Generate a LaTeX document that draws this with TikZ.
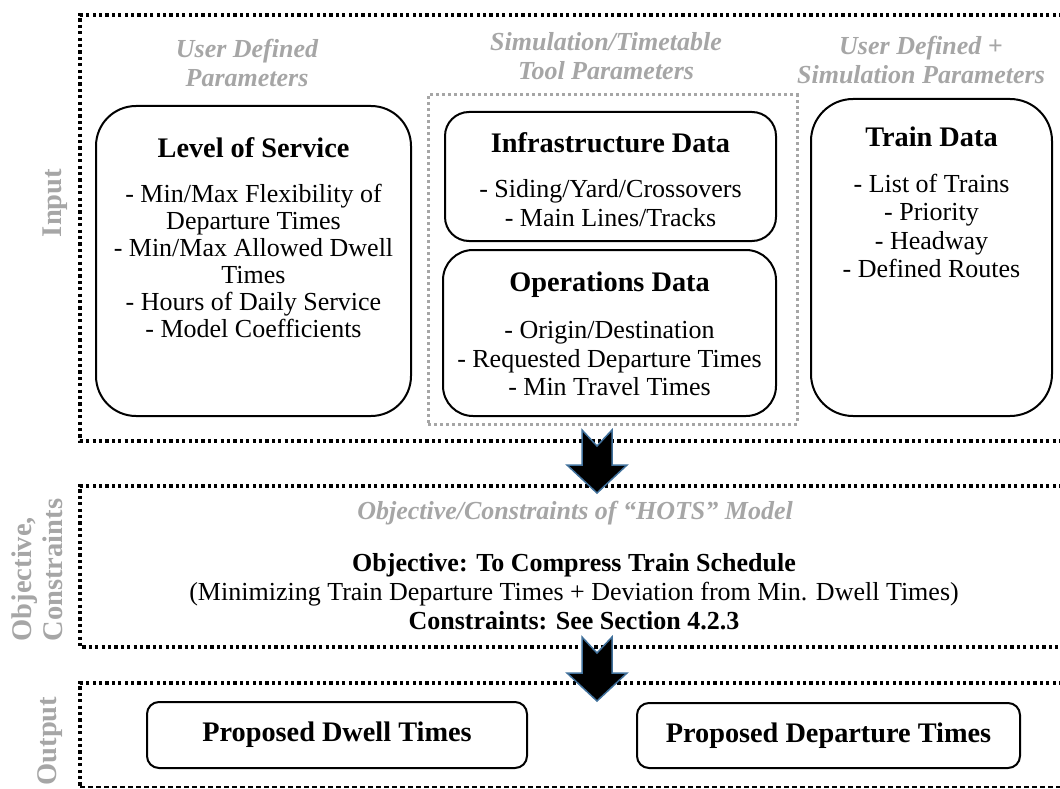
\documentclass[tikz,border=0pt]{standalone}
\usepackage{fontspec}
\setmainfont{Liberation Serif}
\definecolor{lblgray}{RGB}{166,166,166}
\definecolor{arrowblue}{RGB}{65,113,156}
\begin{document}
\begin{tikzpicture}[x=1pt,y=-1pt,
  stage/.style={line width=3.2pt,dash pattern=on 3.2pt off 3.2pt},
  toolgroup/.style={draw=lblgray,line width=3pt,dash pattern=on 3pt off 3pt},
  databox/.style={draw,line width=2pt,rounded corners=#1},
  head/.style={text=lblgray,font=\fontsize{26}{29}\selectfont\bfseries\itshape,align=center},
  side/.style={text=lblgray,font=\fontsize{28.5}{31}\selectfont\bfseries,rotate=90},
  title/.style={font=\fontsize{28.3}{31}\selectfont\bfseries},
  items/.style={font=\fontsize{26}{28.5}\selectfont,align=center},
  blockarrow/.style={fill=black,draw=arrowblue,line width=1.5pt,line join=miter}]
\useasboundingbox (0,0) rectangle (1060,789);

% stages
\draw[stage] (1075,15) -- (80,15) -- (80,441) -- (1075,441);
\draw[stage] (1075,486) -- (80,486) -- (80,647) -- (1075,647);
\draw[stage] (1075,683) -- (80,683) -- (80,787);
\draw[line width=1.3pt,dash pattern=on 5pt off 3pt] (80,787) -- (1075,787);
\node[side] (lin) at (55,203) {Input};
\node[side,align=left] (lobj) at (37.5,570) {Objective,\\Constraints};
\node[side] (lout) at (50,741) {Output};

% input parameters
\node[head] (h1) at (247,63) {User Defined\\Parameters};
\node[head] (h2) at (606,56) {Simulation/Timetable\\Tool Parameters};
\node[head] (h3) at (921,60) {User Defined +\\Simulation Parameters};

\node[databox=40,minimum width=315pt,minimum height=310pt] (los) at (253.5,261) {};
\node[title] (losT) at (253.5,148) {Level of Service};
\node[items,font=\fontsize{26}{27}\selectfont] (losL) at (253.5,261) {- Min/Max Flexibility of\\Departure Times\\- Min/Max Allowed Dwell\\Times\\- Hours of Daily Service\\- Model Coefficients};

\node[toolgroup,minimum width=369pt,minimum height=329pt] (tools) at (612.5,259.5) {};
\node[databox=24,minimum width=331pt,minimum height=129pt] (infra) at (610.5,176.5) {};
\node[title] (infraT) at (610.5,143) {Infrastructure Data};
\node[items] (infraL) at (610.5,203) {- Siding/Yard/Crossovers\\- Main Lines/Tracks};
\node[databox=30,minimum width=333pt,minimum height=166pt] (ops) at (609.5,333) {};
\node[title] (opsT) at (609.5,285) {Operations Data};
\node[items] (opsL) at (609.5,359) {- Origin/Destination\\- Requested Departure Times\\- Min Travel Times};

\node[databox=42,minimum width=241pt,minimum height=317pt] (train) at (931.5,257.5) {};
\node[title] (trainT) at (931.5,137) {Train Data};
\node[items] (trainL) at (931.5,226) {- List of Trains\\- Priority\\- Headway\\- Defined Routes};

% model
\node[head,font=\fontsize{26}{29}\selectfont\bfseries\itshape] (mhead) at (575,513) {Objective/Constraints of “HOTS” Model};
\node[items,font=\fontsize{26}{29}\selectfont] (model) at (574,592) {\textbf{Objective: To Compress Train Schedule}\\(Minimizing Train Departure Times + Deviation from Min. Dwell Times)\\\textbf{Constraints: See Section 4.2.3}};

% output
\node[databox=12,minimum width=380pt,minimum height=66pt,title] (dwell) at (337,735) {Proposed Dwell Times};
\node[databox=12,minimum width=383pt,minimum height=65pt,title] (dep) at (828.5,735.5) {Proposed Departure Times};

% arrows
\coordinate (a1) at (582,430);
\coordinate (a2) at (582,637);
\foreach \a/\s in {a1/35,a2/36}
  \draw[blockarrow] (\a) -- ++(15,16) -- ++(15,-16) -- ++(0,\s) -- ++(15,0) -- ++(-30,28) -- ++(-30,-28) -- ++(15,0) -- cycle;
\end{tikzpicture}
\end{document}
